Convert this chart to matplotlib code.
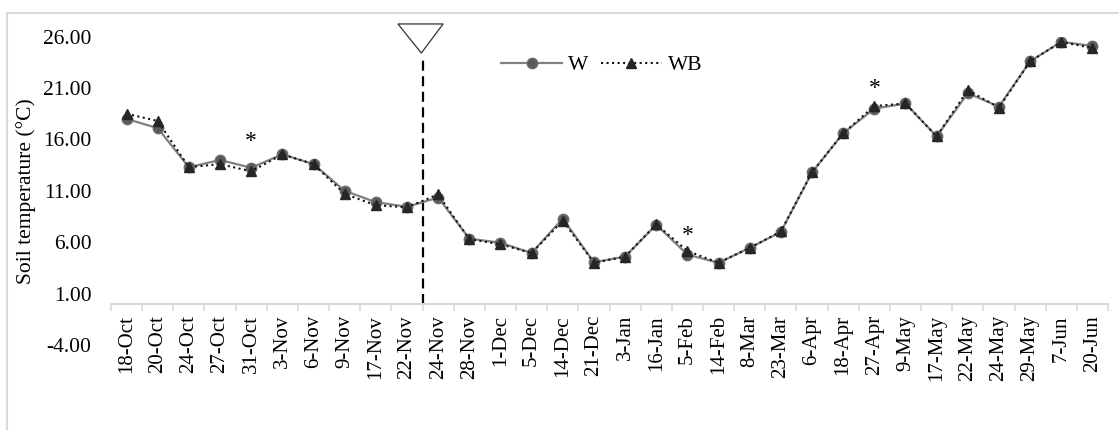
import numpy as np
import matplotlib
matplotlib.use('Agg')
import matplotlib.pyplot as plt
from matplotlib.patches import Polygon, Rectangle

plt.rcParams['font.family'] = ['Liberation Serif', 'DejaVu Serif']

# data
dates = ['18-Oct', '20-Oct', '24-Oct', '27-Oct', '31-Oct', '3-Nov', '6-Nov', '9-Nov',
         '17-Nov', '22-Nov', '24-Nov', '28-Nov', '1-Dec', '5-Dec', '14-Dec', '21-Dec',
         '3-Jan', '16-Jan', '5-Feb', '14-Feb', '8-Mar', '23-Mar', '6-Apr', '18-Apr',
         '27-Apr', '9-May', '17-May', '22-May', '24-May', '29-May', '7-Jun', '20-Jun']
W = [18.0, 17.1, 13.3, 14.0, 13.25, 14.55, 13.6, 11.0, 9.9, 9.45, 10.35, 6.35, 5.95, 4.95,
     8.3, 4.05, 4.6, 7.7, 4.8, 4.0, 5.45, 7.0, 12.8, 16.6, 19.0, 19.5, 16.3, 20.5, 19.2,
     23.6, 25.5, 25.1]
WB = [18.5, 17.8, 13.3, 13.6, 12.9, 14.55, 13.6, 10.7, 9.6, 9.4, 10.65, 6.3, 5.8, 4.95,
      8.1, 4.0, 4.6, 7.75, 5.15, 4.0, 5.45, 7.05, 12.8, 16.6, 19.25, 19.5, 16.3, 20.8, 19.1,
      23.6, 25.5, 24.9]
star_idx = [4, 18, 24]
star_y = [15.8, 6.7, 21.0]
event_pos = 9.5   # between 22-Nov and 24-Nov

W_px, H_px = 1119, 430
fig = plt.figure(figsize=(W_px / 100, H_px / 100), dpi=100)
ax = fig.add_axes([111 / W_px, 1 - 345 / H_px, 997 / W_px, 308.3 / H_px])

# spines first (set_position resets tick styling)
for s in ['left', 'top', 'right']:
    ax.spines[s].set_visible(False)
ax.spines['bottom'].set_position(('data', 0))
ax.spines['bottom'].set_color('#d9d9d9')
ax.spines['bottom'].set_linewidth(1.5)

x = np.arange(len(dates))
ax.plot(x, W, '-', color='#808080', lw=1.6, marker='o', ms=7.5,
        mfc='#5a5a5a', mec='#6e6e6e', label='W', zorder=3)
ax.plot(x, WB, ':', color='#111111', lw=1.5, marker='^', ms=7.5,
        mfc='#262626', mec='#262626', label='WB', zorder=4)

for i, yv in zip(star_idx, star_y):
    ax.text(i, yv, '*', ha='center', va='center', fontsize=17)

# application marker
ax.plot([event_pos, event_pos], [0, 23.9], color='black', lw=1.6,
        linestyle=(0, (4.5, 2.5)), zorder=2)
tri = Polygon([[event_pos - 0.79, 27.24], [event_pos + 0.66, 27.24], [event_pos - 0.04, 24.41]],
              closed=True, fill=False, edgecolor='#333333', lw=0.9, clip_on=False)
ax.add_patch(tri)

ax.set_xlim(-0.5, len(dates) - 0.5)
ax.set_ylim(-4, 26)
ax.set_yticks(np.arange(-4, 27, 5))
ax.set_yticklabels(['%.2f' % v for v in np.arange(-4, 27, 5)], fontsize=15.5)
ax.tick_params(axis='y', length=0, pad=14)

ax.set_xticks(x)
ax.set_xticklabels(dates, rotation=90, fontsize=15)
ax.set_xticks(np.arange(-0.5, len(dates)), minor=True)
ax.tick_params(axis='x', which='major', length=0, pad=8)
ax.tick_params(axis='x', which='minor', length=5, width=1.2, color='#d9d9d9')

fig.text(26 / W_px, 1 - 191 / H_px, 'Soil temperature (°C)', rotation=90,
         ha='center', va='center', fontsize=15.5)

ax.legend(loc='center', bbox_to_anchor=(0.4925, 0.908), ncol=2, frameon=False,
          fontsize=15.5, handlelength=2.8, handletextpad=0.3, columnspacing=0.6)

fig.add_artist(Rectangle((7 / W_px, -0.1), 1.2, 1 - 13 / H_px + 0.1,
                         transform=fig.transFigure, fill=False,
                         edgecolor='#d9d9d9', lw=1.5))

fig.savefig('out.png', dpi=100)
